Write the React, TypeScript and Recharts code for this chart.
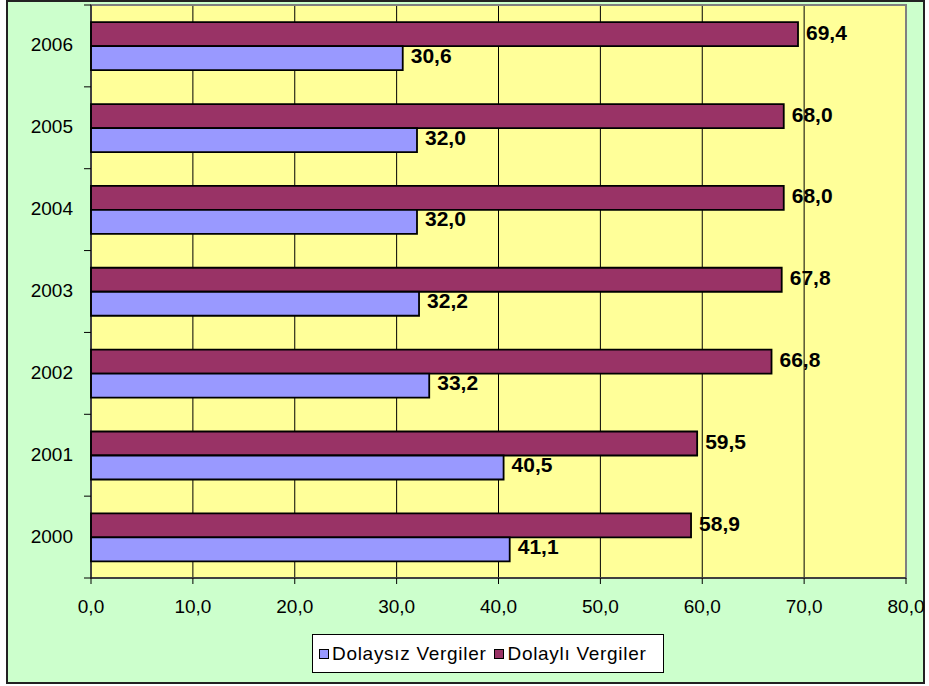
import React from "react";
import { BarChart, Bar, XAxis, YAxis, CartesianGrid, LabelList, ReferenceArea } from "recharts";

const years = ["2006", "2005", "2004", "2003", "2002", "2001", "2000"];
const dolaysiz = [30.6, 32.0, 32.0, 32.2, 33.2, 40.5, 41.1];
const dolayli = [69.4, 68.0, 68.0, 67.8, 66.8, 59.5, 58.9];
const xTicks = [0, 10, 20, 30, 40, 50, 60, 70, 80];

const data = years.map((year, i) => ({ year, dolaysiz: dolaysiz[i], dolayli: dolayli[i] }));

const FONT = "'Liberation Sans', Arial, sans-serif";
const BLUE = "#9999FF";
const MAROON = "#993366";
const PLOT_LEFT = 91;
const BAND = 573 / 7;

const fmt = (v: any) => Number(v).toFixed(1).replace(".", ",");

function YTick(props: any) {
  const { y, payload, index } = props;
  const top = y - BAND / 2;
  return (
    <g>
      <line x1={PLOT_LEFT - 7} x2={PLOT_LEFT} y1={top} y2={top} stroke="#000" />
      {index === years.length - 1 && (
        <line x1={PLOT_LEFT - 7} x2={PLOT_LEFT} y1={top + BAND} y2={top + BAND} stroke="#000" />
      )}
      <text x={PLOT_LEFT - 18} y={y - 1} textAnchor="end" dominantBaseline="central" fontSize={19} fontFamily={FONT} fill="#000">
        {payload.value}
      </text>
    </g>
  );
}

function LegendItem({ color, text }: { color: string; text: string }) {
  return (
    <span style={{ display: "inline-flex", alignItems: "center", marginRight: 8 }}>
      <span style={{ width: 8, height: 8, background: color, border: "1px solid #000", marginRight: 3, display: "inline-block" }} />
      <span>{text}</span>
    </span>
  );
}

export default function App() {
  return (
    <div style={{ position: "absolute", left: 0, top: 0, width: 929, height: 686, background: "#fff" }}>
      <div
        style={{
          position: "absolute",
          left: 6,
          top: 0,
          width: 919,
          height: 684,
          border: "2px solid #222",
          background: "#CCFFCC",
          boxSizing: "border-box",
        }}
      />
      <div style={{ position: "absolute", left: 0, top: 0 }}>
        <BarChart
          width={929}
          height={686}
          data={data}
          layout="vertical"
          margin={{ top: 5, right: 23, left: 31, bottom: 78 }}
          barCategoryGap="21%"
          barGap={0}
        >
          <CartesianGrid horizontal={false} stroke="#000" fill="#FFFF99" fillOpacity={1} />
          <ReferenceArea x1={0} x2={80} fill="none" stroke="#808080" strokeWidth={2} />
          <XAxis
            type="number"
            domain={[0, 80]}
            ticks={xTicks}
            tickFormatter={fmt}
            tick={{ fontSize: 19, fill: "#000", fontFamily: FONT }}
            axisLine={{ stroke: "#000" }}
            tickLine={{ stroke: "#000" }}
            tickSize={6}
            tickMargin={16}
            height={30}
          />
          <YAxis
            type="category"
            dataKey="year"
            width={60}
            tick={<YTick />}
            tickLine={false}
            axisLine={{ stroke: "#000" }}
          />
          <Bar dataKey="dolayli" fill={MAROON} stroke="#000" strokeWidth={1.8} isAnimationActive={false}>
            <LabelList dataKey="dolayli" position="right" offset={8} formatter={fmt} fill="#000" fontSize={21} fontWeight="bold" fontFamily={FONT} dy={-2} />
          </Bar>
          <Bar dataKey="dolaysiz" fill={BLUE} stroke="#000" strokeWidth={1.8} isAnimationActive={false}>
            <LabelList dataKey="dolaysiz" position="right" offset={8} formatter={fmt} fill="#000" fontSize={21} fontWeight="bold" fontFamily={FONT} dy={-3} />
          </Bar>
        </BarChart>
      </div>
      <div
        style={{
          position: "absolute",
          left: 312,
          top: 634,
          width: 352,
          height: 39,
          boxSizing: "border-box",
          border: "1px solid #000",
          background: "#fff",
          display: "flex",
          alignItems: "center",
          paddingLeft: 6,
          fontFamily: FONT,
          fontSize: 19,
          letterSpacing: 0.7,
          color: "#000",
          whiteSpace: "nowrap",
        }}
      >
        <LegendItem color={BLUE} text="Dolaysız Vergiler" />
        <LegendItem color={MAROON} text="Dolaylı Vergiler" />
      </div>
    </div>
  );
}
